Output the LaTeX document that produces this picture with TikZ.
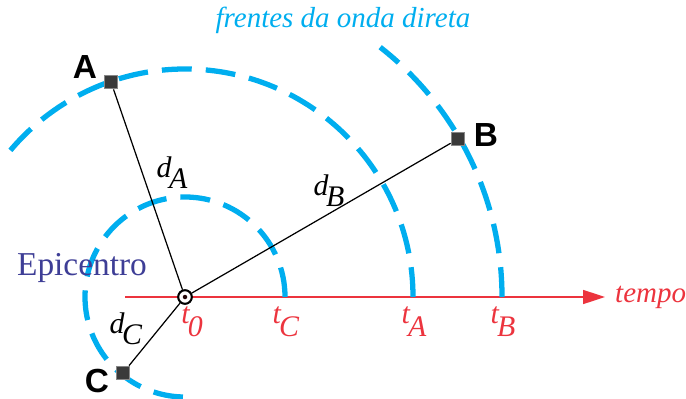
\documentclass[tikz,border=0pt]{standalone}
\usepackage{fontspec}
\setmainfont{Liberation Serif}
\newfontfamily\stfont{Liberation Sans}
\usepackage{xcolor}
\usepackage{tikz}
\usetikzlibrary{arrows.meta, positioning}
\definecolor{wavecyan}{RGB}{0,174,239}
\definecolor{axisred}{RGB}{236,52,62}
\definecolor{epiblue}{RGB}{62,62,150}
\definecolor{sqfill}{RGB}{58,58,58}
\definecolor{sqdraw}{RGB}{135,135,135}
\newcommand{\lowsub}[3]{\textit{#1}\kern-0.08em\raisebox{-#3}{\textit{#2}}}
\tikzset{
  station/.style={rectangle, draw=sqdraw, fill=sqfill, minimum size=0.26cm,
    inner sep=0pt, line width=1pt},
  epic/.style={circle, draw=black, fill=white, minimum size=0.27cm,
    inner sep=0pt, line width=1.1pt},
  wavefront/.style={wavecyan, line width=3pt, dash pattern=on 17pt off 8pt},
  ray/.style={black, line width=0.7pt},
  timeaxis/.style={-{Triangle[length=4.4mm, width=2.8mm]}, axisred, line width=0.9pt},
  tlabel/.style={font=\fontsize{17}{19}\selectfont, color=axisred, anchor=north, inner sep=0pt},
  dlabel/.style={font=\fontsize{17}{19}\selectfont, inner sep=0pt},
  stlabel/.style={font=\fontsize{19}{21}\selectfont\stfont\bfseries, inner sep=0pt}
}

\begin{document}
\begin{tikzpicture}
  \clip (0,0) rectangle (13.72,7.96);

  % time axis
  \coordinate (axstart) at (2.50,2.02);
  \coordinate (axend) at (12.10,2.02);
  \coordinate (tC) at (5.70,2.02);
  \coordinate (tA) at (8.26,2.02);
  \coordinate (tB) at (10.04,2.02);
  \draw[timeaxis] (axstart) -- (axend);
  \node[font=\fontsize{16.5}{18}\selectfont\itshape, color=axisred, anchor=west] (tempo) at (12.18,2.02) {tempo};

  % wave fronts
  \draw[wavefront] (tC) arc[start angle=0, end angle=276, radius=2.00];
  \draw[wavefront] (tA) arc[start angle=0, end angle=142, radius=4.56];
  \draw[wavefront] (tB) arc[start angle=0, end angle=52, radius=6.34];
  \node[font=\fontsize{16.5}{18}\selectfont\itshape, color=wavecyan] (frentes) at (6.86,7.56) {frentes da onda direta};

  % stations
  \node[station] (A) at (2.22,6.32) {};
  \node[station] (B) at (9.16,5.18) {};
  \node[station] (C) at (2.46,0.50) {};
  \node[stlabel] (Alab) at (1.70,6.62) {A};
  \node[stlabel] (Blab) at (9.72,5.26) {B};
  \node[stlabel] (Clab) at (1.94,0.34) {C};

  % epicentre and distances
  \node[epic] (E) at (3.70,2.02) {};
  \draw[ray] (E) -- (A);
  \draw[ray] (E) -- (B);
  \draw[ray] (E) -- (C);
  \node[epic] at (E) {};
  \fill[black!85!axisred] (E) circle (0.045);
  \node[font=\fontsize{19}{21}\selectfont, color=epiblue] (epilab) at (1.64,2.60) {Epicentro};

  \node[dlabel] (dA) at (3.44,4.50) {\lowsub{d}{A}{0.37em}};
  \node[dlabel] (dB) at (6.58,4.14) {\lowsub{d}{B}{0.37em}};
  \node[dlabel] (dC) at (2.52,1.38) {\lowsub{d}{C}{0.37em}};

  % time labels
  \node[tlabel] (t0) at (3.84,1.84) {\lowsub{t}{0}{0.45em}};
  \node[tlabel] (tClab) at (5.72,1.84) {\lowsub{t}{C}{0.45em}};
  \node[tlabel] (tAlab) at (8.28,1.84) {\lowsub{t}{A}{0.45em}};
  \node[tlabel] (tBlab) at (10.06,1.84) {\lowsub{t}{B}{0.45em}};
\end{tikzpicture}
\end{document}
